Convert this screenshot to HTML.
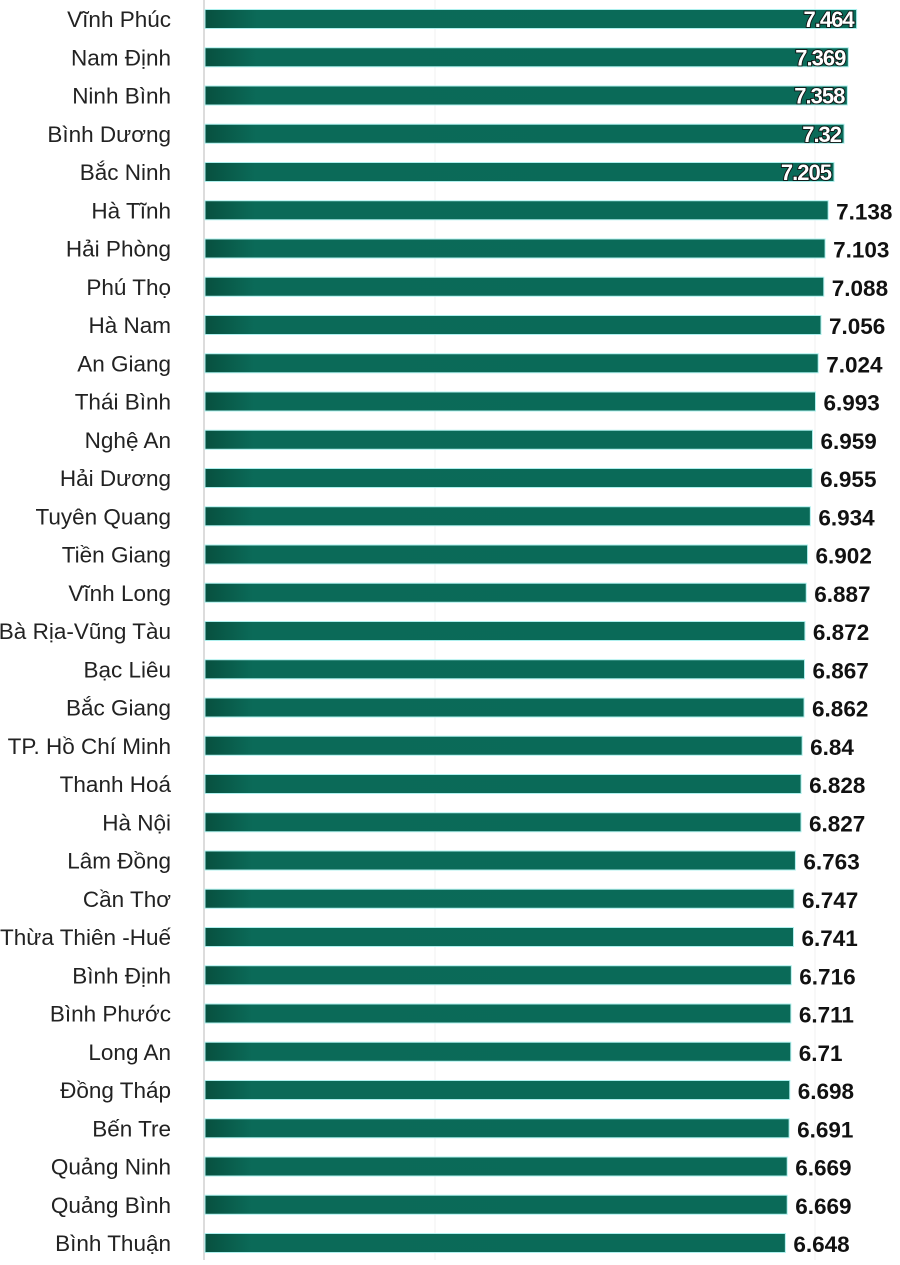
<!DOCTYPE html>
<html><head><meta charset="utf-8"><style>
body{margin:0;background:#fff;width:900px;height:1260px;overflow:hidden;font-family:"Liberation Sans",sans-serif}
</style></head><body>
<svg id="chart" width="900" height="1260" xmlns="http://www.w3.org/2000/svg">
<defs><linearGradient id="g" x1="0" x2="1" y1="0" y2="0"><stop offset="0" stop-color="#07503f"/><stop offset="0.08" stop-color="#0b6a58"/><stop offset="1" stop-color="#0a6a58"/></linearGradient></defs>
</svg>
<script>
const categories=["Vĩnh Phúc","Nam Định","Ninh Bình","Bình Dương","Bắc Ninh","Hà Tĩnh","Hải Phòng","Phú Thọ","Hà Nam","An Giang","Thái Bình","Nghệ An","Hải Dương","Tuyên Quang","Tiền Giang","Vĩnh Long","Bà Rịa-Vũng Tàu","Bạc Liêu","Bắc Giang","TP. Hồ Chí Minh","Thanh Hoá","Hà Nội","Lâm Đồng","Cần Thơ","Thừa Thiên -Huế","Bình Định","Bình Phước","Long An","Đồng Tháp","Bến Tre","Quảng Ninh","Quảng Bình","Bình Thuận"];
const values=[7.464,7.369,7.358,7.32,7.205,7.138,7.103,7.088,7.056,7.024,6.993,6.959,6.955,6.934,6.902,6.887,6.872,6.867,6.862,6.84,6.828,6.827,6.763,6.747,6.741,6.716,6.711,6.71,6.698,6.691,6.669,6.669,6.648];
const labels=["7.464","7.369","7.358","7.32","7.205","7.138","7.103","7.088","7.056","7.024","6.993","6.959","6.955","6.934","6.902","6.887","6.872","6.867","6.862","6.84","6.828","6.827","6.763","6.747","6.741","6.716","6.711","6.71","6.698","6.691","6.669","6.669","6.648"];
const insideCount=5;
const NS="http://www.w3.org/2000/svg";
const svg=document.getElementById('chart');
const x0=205,k=87.3;
const xs=v=>x0+v*k;
const yc=i=>19+i*38.25;
function mk(t,a){const e=document.createElementNS(NS,t);for(const p in a)e.setAttribute(p,a[p]);svg.appendChild(e);return e;}
[435,815].forEach(x=>{const g=mk('line',{x1:x,x2:x,y1:0,y2:1260,stroke:'#f2f2f2','stroke-width':1});

});
const ax=mk('line',{x1:204,x2:204,y1:0,y2:1260,stroke:'#dcdcdc','stroke-width':2});


categories.forEach((c,i)=>{
 const y=yc(i);
 const t=mk('text',{x:171,y:y+8,'text-anchor':'end','font-size':22.5,fill:'#222'});t.textContent=c;
 
 
 const r=mk('rect',{x:x0,y:y-9.5,width:xs(values[i])-x0,height:19,fill:'url(#g)',stroke:'#aef0ee','stroke-width':1});
 
 
 let v;
 if(i<insideCount){
  v=mk('text',{x:xs(values[i])-3,y:y+8,'text-anchor':'end','font-size':22,'font-weight':'bold',fill:'#fff',stroke:'#111','stroke-width':1.8,'paint-order':'stroke','letter-spacing':'-1'});
 }else{
  v=mk('text',{x:xs(values[i])+8,y:y+9,'font-size':22.5,'font-weight':'bold',fill:'#111'});
 }
 v.textContent=labels[i];
 
 
});
</script>
</body></html>
